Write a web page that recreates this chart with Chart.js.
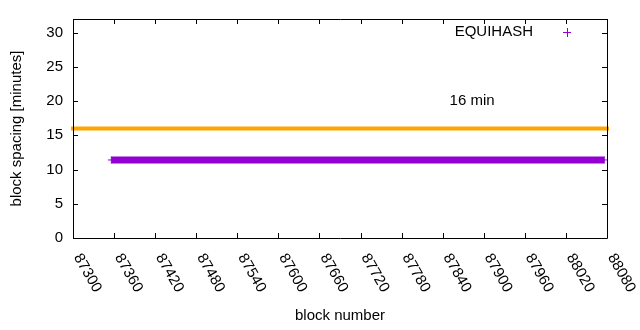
<!DOCTYPE html>
<html>
<head>
<meta charset="utf-8">
<script src="https://cdn.jsdelivr.net/npm/chart.js@4/dist/chart.umd.min.js"></script>
<style>
  html, body { margin: 0; padding: 0; background: #fff; }
  #wrap { width: 640px; height: 330px; }
</style>
</head>
<body>
<div id="wrap"><canvas id="myChart" width="640" height="330"></canvas></div>
<script>
// data
const equihashBlocks = [87356, 88076];
const equihashSpacing = [11.4, 11.4];
const targetBlocks = [87300, 88080];
const targetSpacing = [16, 16];
const targetLabel = '16 min';
const targetLabelAt = [87850, 20];

const xTicks = [87300, 87360, 87420, 87480, 87540, 87600, 87660, 87720, 87780, 87840, 87900, 87960, 88020, 88080];
const yTicks = [0, 5, 10, 15, 20, 25, 30];
const xMin = 87300, xMax = 88080;
const yMin = 0, yMax = 32;

const font = "'Liberation Sans', Arial, sans-serif";
const purple = '#9400d3';
const orange = '#ffa500';

// frame, inward ticks, rotated x labels, legend and text label
const gnuplotLook = {
  id: 'gnuplotLook',
  afterDraw(chart) {
    const ctx = chart.ctx;
    const a = chart.chartArea;
    const xs = chart.scales.x, ys = chart.scales.y;
    const tick = 5;
    ctx.save();
    ctx.strokeStyle = '#000';
    ctx.lineWidth = 1;
    ctx.beginPath();
    ctx.rect(Math.round(a.left) + 0.5, Math.round(a.top) + 0.5,
             Math.round(a.right - a.left), Math.round(a.bottom - a.top));
    ys.ticks.forEach(t => {
      const y = Math.round(ys.getPixelForValue(t.value)) + 0.5;
      ctx.moveTo(a.left, y); ctx.lineTo(a.left + tick, y);
      ctx.moveTo(a.right, y); ctx.lineTo(a.right - tick, y);
    });
    xs.ticks.forEach(t => {
      const x = Math.round(xs.getPixelForValue(t.value)) + 0.5;
      ctx.moveTo(x, a.bottom); ctx.lineTo(x, a.bottom - tick);
      ctx.moveTo(x, a.top); ctx.lineTo(x, a.top + tick);
    });
    ctx.stroke();

    // rotated x tick labels
    ctx.fillStyle = '#000';
    ctx.font = '15px ' + font;
    ctx.textAlign = 'left';
    ctx.textBaseline = 'middle';
    xs.ticks.forEach(t => {
      const x = xs.getPixelForValue(t.value);
      ctx.save();
      ctx.translate(x + 4, a.bottom + 17);
      ctx.rotate(Math.PI / 3);
      ctx.fillText(String(t.value), 0, 0);
      ctx.restore();
    });

    // legend
    ctx.textAlign = 'right';
    ctx.fillText(chart.data.datasets[0].label, 533, 32);
    ctx.strokeStyle = purple;
    ctx.beginPath();
    ctx.moveTo(563, 32.5); ctx.lineTo(571, 32.5);
    ctx.moveTo(567.5, 28); ctx.lineTo(567.5, 37);
    ctx.stroke();

    // target label
    ctx.fillStyle = '#000';
    ctx.textAlign = 'left';
    ctx.fillText(targetLabel, xs.getPixelForValue(targetLabelAt[0]), ys.getPixelForValue(targetLabelAt[1]));
    ctx.restore();
  }
};

new Chart(document.getElementById('myChart'), {
  type: 'line',
  data: {
    datasets: [{
      label: 'EQUIHASH',
      data: equihashBlocks.map((b, i) => ({ x: b, y: equihashSpacing[i] })),
      borderColor: purple,
      backgroundColor: purple,
      borderWidth: 7,
      borderCapStyle: 'butt',
      pointStyle: 'cross',
      pointRadius: 3.5,
      pointBorderWidth: 1,
      pointBorderColor: purple,
      clip: false
    }, {
      label: 'target',
      data: targetBlocks.map((b, i) => ({ x: b, y: targetSpacing[i] })),
      borderColor: orange,
      borderWidth: 4,
      borderCapStyle: 'square',
      pointRadius: 0,
      clip: false
    }]
  },
  options: {
    responsive: false,
    animation: false,
    layout: { padding: { top: 18, right: 33, left: 0, bottom: 0 } },
    plugins: { legend: { display: false }, tooltip: { enabled: false } },
    scales: {
      x: {
        type: 'linear',
        min: xMin, max: xMax,
        ticks: { display: false },
        afterBuildTicks(scale) { scale.ticks = xTicks.map(v => ({ value: v })); },
        grid: { display: false },
        border: { display: false },
        title: { display: true, text: 'block number', color: '#000',
                 font: { family: font, size: 15 }, padding: { top: 0, bottom: 5 } },
        afterFit(scale) { scale.height = 92; }
      },
      y: {
        min: yMin, max: yMax,
        ticks: { color: '#000', padding: 10, font: { family: font, size: 15 } },
        afterBuildTicks(scale) { scale.ticks = yTicks.map(v => ({ value: v })); },
        grid: { display: false, drawTicks: false },
        border: { display: false },
        title: { display: true, text: 'block spacing [minutes]', color: '#000',
                 font: { family: font, size: 15 }, padding: { top: 8, bottom: 0 } },
        afterFit(scale) { scale.width = 73; }
      }
    }
  },
  plugins: [gnuplotLook]
});
</script>
</body>
</html>
